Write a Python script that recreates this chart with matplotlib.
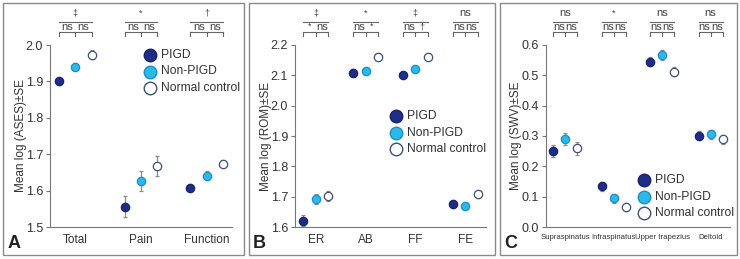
import matplotlib
matplotlib.use("Agg")
import matplotlib.pyplot as plt
from matplotlib.patches import Rectangle
from matplotlib.transforms import blended_transform_factory
from matplotlib.lines import Line2D
import numpy as np

plt.rcParams["font.family"] = ["Liberation Sans", "DejaVu Sans"]

GROUPS = ["PIGD", "Non-PIGD", "Normal control"]

# Panel A: ASES
A_CATS = ["Total", "Pain", "Function"]
A_MEAN = [[1.900, 1.556, 1.608],
          [1.940, 1.627, 1.641],
          [1.973, 1.668, 1.674]]
A_ERR = [[0.010, 0.028, 0.010],
         [0.010, 0.027, 0.012],
         [0.012, 0.027, 0.010]]
A_TOP = ["\u2021", "*", "\u2020"]
A_PAIR = [("ns", "ns"), ("ns", "ns"), ("ns", "ns")]

# Panel B: ROM
B_CATS = ["ER", "AB", "FF", "FE"]
B_MEAN = [[1.621, 2.109, 2.101, 1.675],
          [1.693, 2.115, 2.120, 1.669],
          [1.702, 2.161, 2.159, 1.708]]
B_ERR = [[0.018, 0.012, 0.006, 0.013],
         [0.017, 0.010, 0.007, 0.010],
         [0.016, 0.012, 0.005, 0.012]]
B_TOP = ["\u2021", "*", "\u2021", "ns"]
B_PAIR = [("*", "ns"), ("ns", "*"), ("ns", "\u2020"), ("ns", "ns")]

# Panel C: SWV
C_CATS = ["Supraspinatus", "Infraspinatus", "Upper trapezius", "Deltoid"]
C_MEAN = [[0.251, 0.134, 0.545, 0.301],
          [0.289, 0.094, 0.567, 0.306],
          [0.259, 0.066, 0.512, 0.289]]
C_ERR = [[0.020, 0.015, 0.015, 0.015],
         [0.020, 0.015, 0.015, 0.015],
         [0.020, 0.012, 0.015, 0.015]]
C_TOP = ["ns", "*", "ns", "ns"]
C_PAIR = [("ns", "ns"), ("ns", "ns"), ("ns", "ns"), ("ns", "ns")]

FACE = ["#1f2d86", "#2cb8ea", "white"]
EDGE = ["#16236e", "#1b8fc0", "#3d4f7a"]
OFFS = [-0.25, 0.0, 0.25]

W, H = 740, 259
fig = plt.figure(figsize=(W / 100, H / 100), dpi=100)


def px_axes(x0, y0, x1, y1):
    return fig.add_axes([x0 / W, 1 - y1 / H, (x1 - x0) / W, (y1 - y0) / H])


def border(x0, y0, x1, y1):
    fig.patches.append(Rectangle((x0 / W, 1 - y1 / H), (x1 - x0) / W, (y1 - y0) / H,
                                 transform=fig.transFigure, fill=False,
                                 edgecolor="#8a8a8a", linewidth=1.0))


def panel(ax, cats, means, errs, tops, pairs, ylim, yticks, ylabel, xpad,
          xfont, legpos, letter, letter_x, ylab_x):
    n = len(cats)
    x = np.arange(n)
    for g in range(3):
        ax.errorbar(x + OFFS[g], means[g], yerr=errs[g], fmt="o", ms=6,
                    mfc=FACE[g], mec=EDGE[g], mew=0.9, ecolor="#8c8c8c",
                    elinewidth=0.9, capsize=1.5, capthick=0.9, zorder=3)
    ax.set_xlim(-xpad, n - 1 + xpad)
    ax.set_ylim(*ylim)
    ax.set_yticks(yticks)
    ax.set_yticklabels([f"{t:.1f}" for t in yticks], fontsize=9, color="#333333")
    ax.set_xticks(x)
    ax.set_xticklabels(cats, color="#333333", **xfont)
    ax.tick_params(axis="x", length=0, pad=5)
    ax.tick_params(axis="y", length=3, width=0.8, color="#777777", pad=2)
    for s in ("top", "right"):
        ax.spines[s].set_visible(False)
    for s in ("left", "bottom"):
        ax.spines[s].set_color("#777777")
        ax.spines[s].set_linewidth(0.8)
    ax.set_ylabel(ylabel, fontsize=8.5, color="#333333")
    ax.yaxis.set_label_coords(ylab_x, 0.5)

    tr = blended_transform_factory(ax.transData, fig.transFigure)
    for i in range(n):
        xl, xm, xr = i + OFFS[0], i, i + OFFS[2]
        yl = 1 - 22 / H
        yb = 1 - 32 / H
        yt = 1 - 36 / H
        ax.add_line(Line2D([xl, xr], [yl, yl], transform=tr, color="#666666",
                           lw=0.8, clip_on=False))
        ax.text(xm, 1 - 13 / H, tops[i], transform=tr, ha="center", va="center",
                fontsize=8 if tops[i] == "ns" else 6.5, color="#444444")
        ax.add_line(Line2D([xl, xr], [yb, yb], transform=tr, color="#666666",
                           lw=0.8, clip_on=False))
        for xx in (xl, xm, xr):
            ax.add_line(Line2D([xx, xx], [yb, yt], transform=tr, color="#666666",
                               lw=0.8, clip_on=False))
        for xx, s in (((xl + xm) / 2, pairs[i][0]), ((xm + xr) / 2, pairs[i][1])):
            ax.text(xx, 1 - 26.5 / H, s, transform=tr, ha="center", va="center",
                    fontsize=8 if s == "ns" else 6.5, color="#444444")

    # legend
    mx, my = legpos
    for g in range(3):
        yy = 1 - (my + g * 16.5) / H
        fig.add_artist(Line2D([mx / W], [yy], marker="o", ms=9, mfc=FACE[g],
                              mec=EDGE[g], mew=1.0, ls="none",
                              transform=fig.transFigure))
        fig.text((mx + 11) / W, yy, GROUPS[g], fontsize=8.7, va="center",
                 ha="left", color="#333333")
    fig.text(letter_x / W, 1 - 243 / H, letter, fontsize=13, fontweight="bold",
             va="center", ha="left", color="#222222")


border(3, 3, 244, 255)
border(249, 3, 495, 255)
border(500, 3, 737, 255)

axA = px_axes(50, 45, 232, 227)
panel(axA, A_CATS, A_MEAN, A_ERR, A_TOP, A_PAIR, (1.5, 2.0),
      [1.5, 1.6, 1.7, 1.8, 1.9, 2.0], "Mean log (ASES)\u00b1SE", 0.38,
      dict(fontsize=8.5), (150, 55), "A", 8, -0.126)

axB = px_axes(295, 45, 486, 227)
panel(axB, B_CATS, B_MEAN, B_ERR, B_TOP, B_PAIR, (1.6, 2.2),
      [1.6, 1.7, 1.8, 1.9, 2.0, 2.1, 2.2], "Mean log (ROM)\u00b1SE", 0.42,
      dict(fontsize=8.5), (396, 116), "B", 253, -0.12)

axC = px_axes(546, 45, 730, 227)
panel(axC, C_CATS, C_MEAN, C_ERR, C_TOP, C_PAIR, (0.0, 0.6),
      [0.0, 0.1, 0.2, 0.3, 0.4, 0.5, 0.6], "Mean log (SWV)\u00b1SE", 0.4,
      dict(fontsize=5.6, family=["Liberation Sans Narrow", "Liberation Sans"]),
      (644, 180), "C", 504, -0.13)

fig.savefig("out.png", dpi=100)
